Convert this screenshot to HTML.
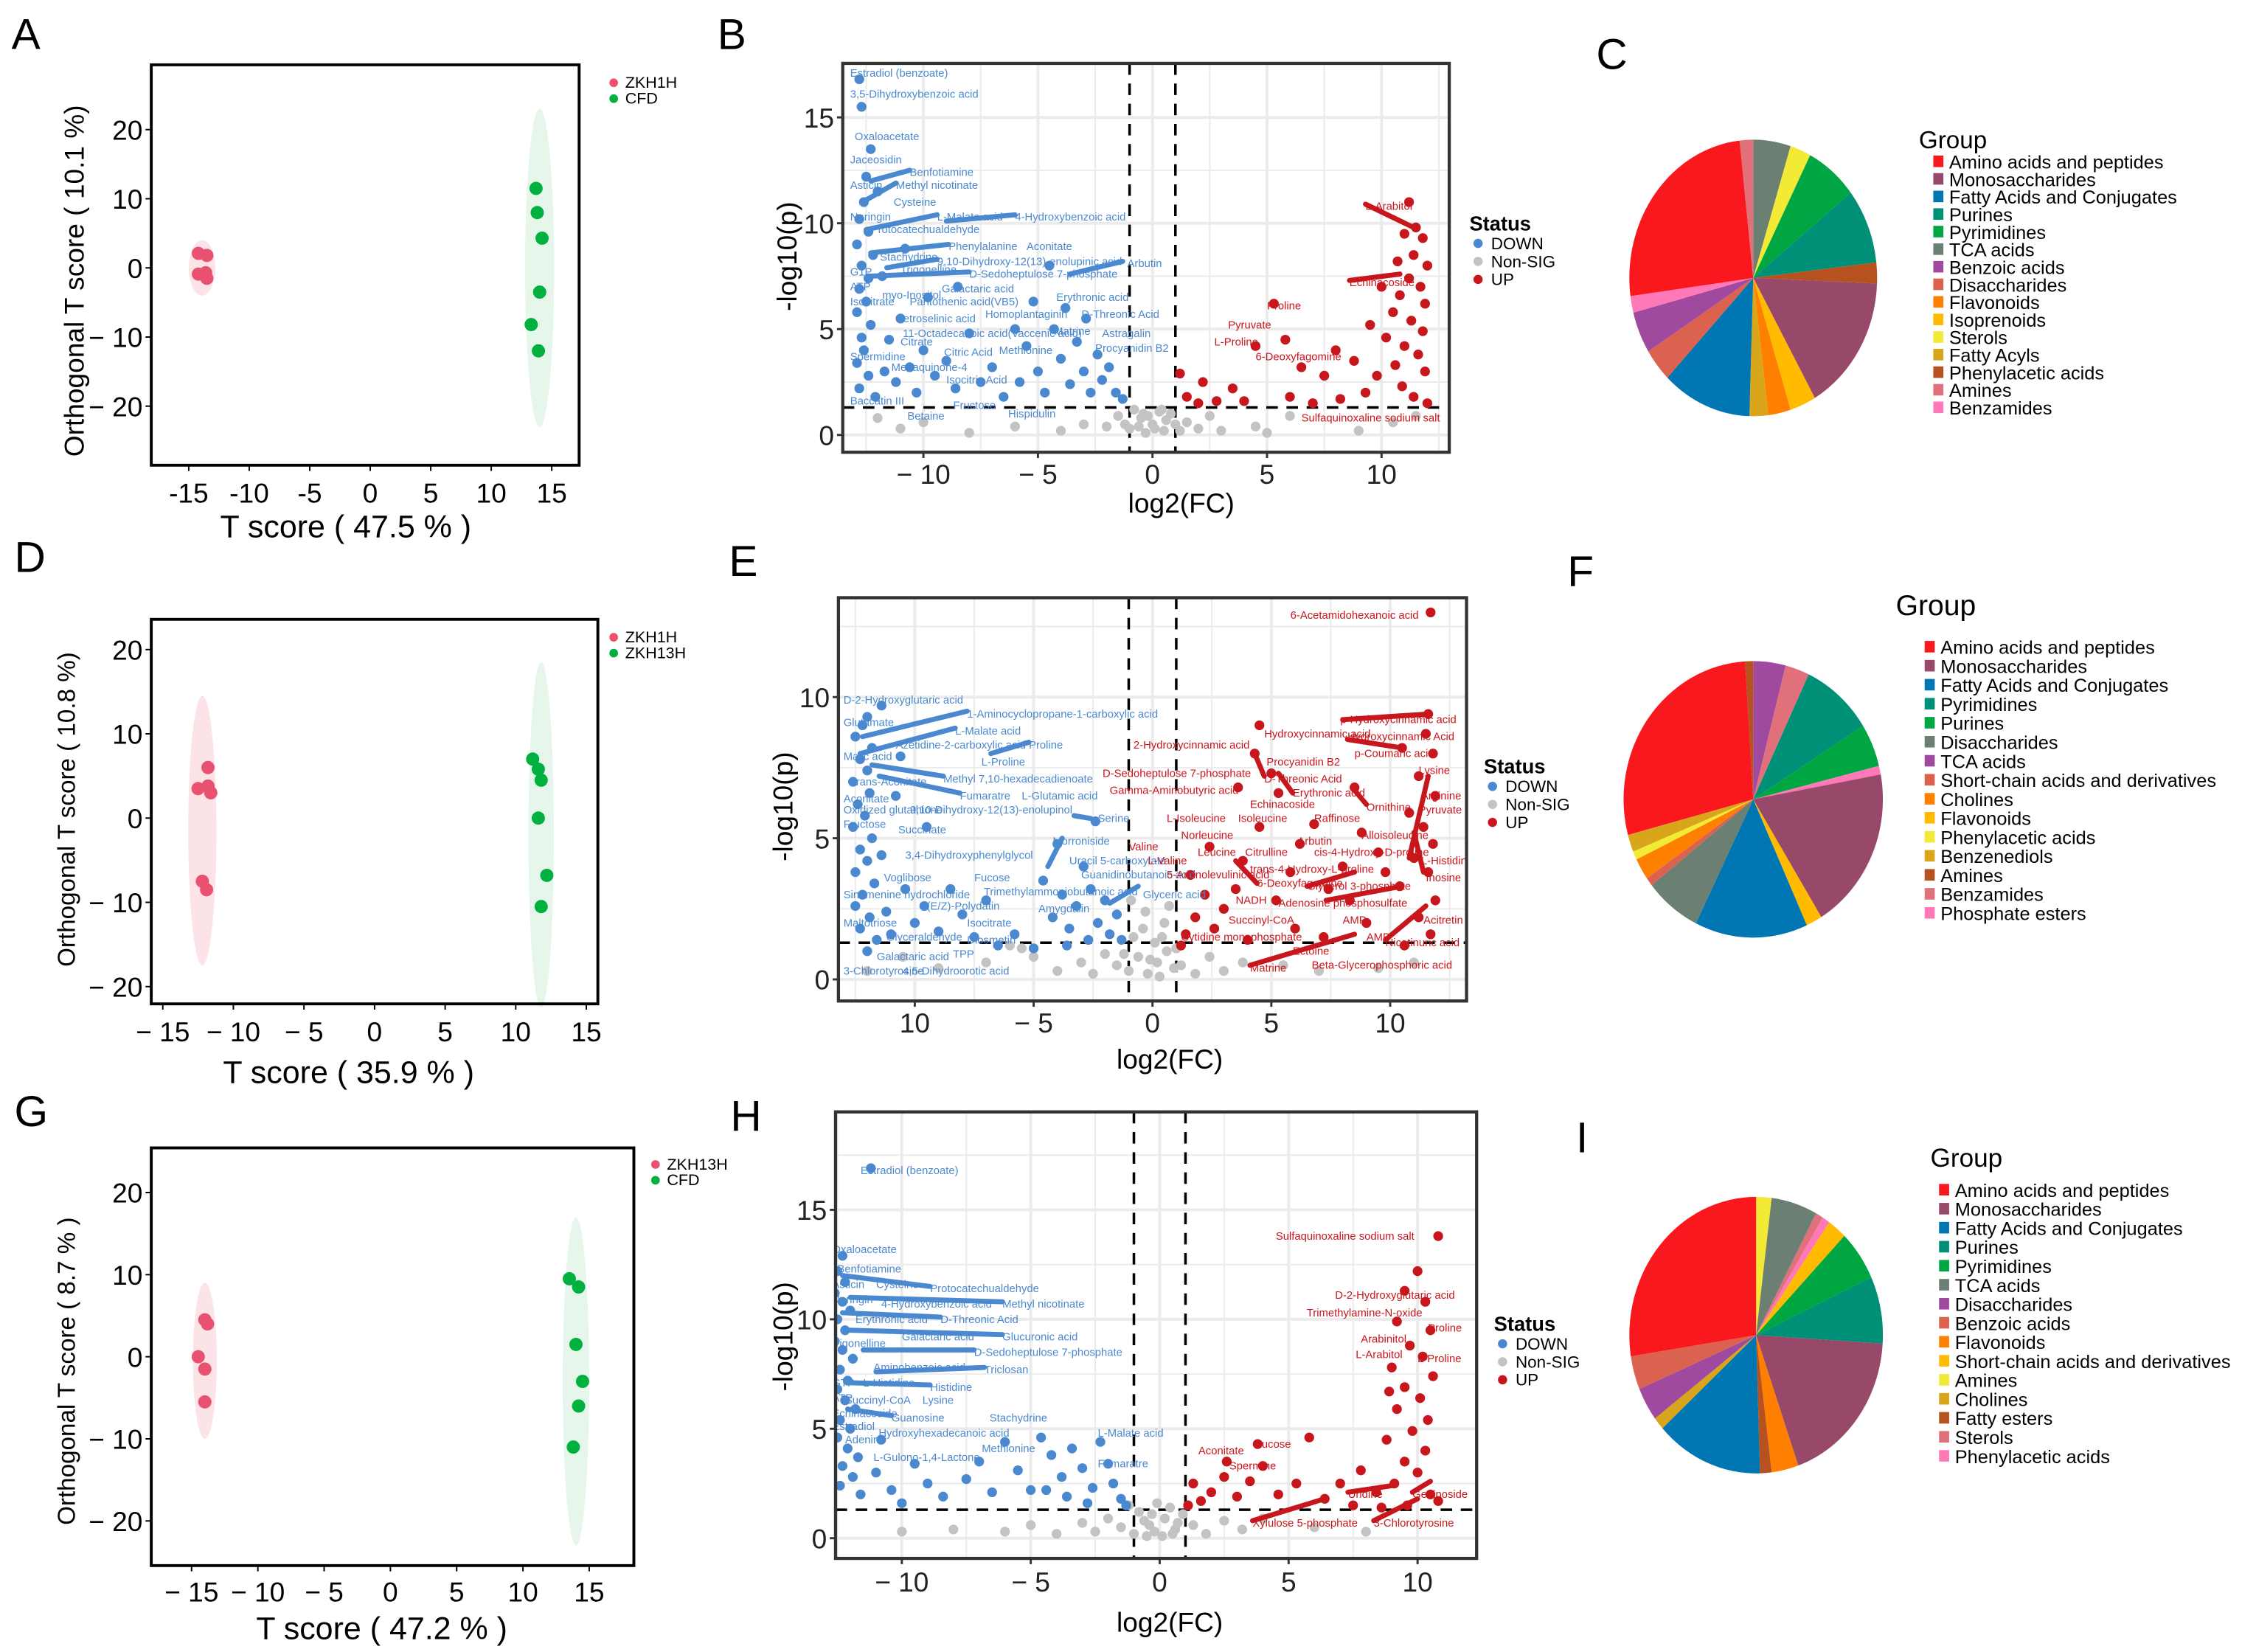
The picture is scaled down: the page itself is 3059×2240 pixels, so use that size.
<!DOCTYPE html>
<html><head><meta charset="utf-8"><style>
html,body{margin:0;padding:0;background:#fff;}
svg{display:block;}
text{font-family:"Liberation Sans",sans-serif;}
.lab{font-family:"Liberation Sans Narrow","Liberation Sans",sans-serif;font-size:7.6px;}
</style></head><body>
<svg id="fig" xmlns="http://www.w3.org/2000/svg" width="3059" height="2240" viewBox="0 0 1566 1147" preserveAspectRatio="none">
<rect x="0" y="0" width="1566" height="1147" fill="#fff"/>
<g font-size="30" fill="#000">
<text x="8" y="34">A</text>
<text x="498" y="34">B</text>
<text x="1108" y="48">C</text>
<text x="10" y="397">D</text>
<text x="506" y="400">E</text>
<text x="1088" y="407">F</text>
<text x="10" y="782">G</text>
<text x="507" y="785">H</text>
<text x="1094" y="800">I</text>
</g>
<g id="root"></g>
</svg>
<script>
// ---------- PCA data ----------
const pcaA_redX=[-14.2,-13.5,-14.2,-13.6,-13.5];
const pcaA_redY=[2.1,1.8,-0.9,-0.7,-1.5];
const pcaA_grnX=[13.7,13.8,14.2,14.0,13.3,13.9];
const pcaA_grnY=[11.5,8.0,4.3,-3.5,-8.2,-12.0];
const pcaD_redX=[-12.5,-11.8,-11.8,-11.6,-12.2,-11.9];
const pcaD_redY=[3.5,3.8,6.0,3.0,-7.5,-8.5];
const pcaD_grnX=[11.2,11.6,11.8,11.6,12.2,11.8];
const pcaD_grnY=[7.0,5.8,4.5,0.0,-6.8,-10.5];
const pcaG_redX=[-14.0,-13.8,-14.5,-14.0,-14.0];
const pcaG_redY=[4.5,4.0,0.0,-1.5,-5.5];
const pcaG_grnX=[13.5,14.2,14.0,14.5,14.2,13.8];
const pcaG_grnY=[9.5,8.5,1.5,-3.0,-6.0,-11.0];
const pcaTicksX=[-15,-10,-5,0,5,10,15];
const pcaTicksY=[20,10,0,-10,-20];

// ---------- Volcano data ----------
const volB_downX=[-12.8,-12.7,-12.3,-12.5,-12,-12.6,-12.8,-12.4,-12.9,-12.2,-12.7,-12.4,-12.8,-12.5,-12.9,-12.3,-12.7,-12.6,-12.9,-12.4,-12.8,-12.1,-11.7,-11.5,-11.2,-11,-10.6,-10.3,-10,-9.5,-9,-8.6,-8,-7.5,-7,-6.5,-5.8,-5.5,-5,-4.7,-4.3,-4,-3.6,-3.3,-3,-2.7,-2.4,-2.2,-1.9,-1.6,-1.3,-3.8,-2.9,-5.2,-6,-9.8,-8.5,-11.8,-10.8,-4.5];
const volB_downY=[16.8,15.5,13.5,12.2,11.5,11,10.2,9.6,9,8.5,8,7.4,6.9,6.3,5.8,5.2,4.6,4,3.4,2.8,2.2,1.8,3,4.5,2.5,5.5,3.2,2,4,2.8,3.5,2.2,4.8,2.5,3.2,1.8,2.5,4.2,3,2,5,3.6,2.4,4.4,3,2,3.8,2.6,3.2,2,1.7,6,5.5,6.3,5,6.5,7,7.5,8.8,8];
const volB_upX=[11.5,11.8,11,11.4,12,11.2,11.7,10.8,11.9,10.5,11.3,11.8,10.2,11,11.6,10.6,11.9,9.8,10.9,11.4,9.3,8.8,9.5,10,10.7,8.2,7.5,6.5,5.3,4.5,5.8,3.5,2.8,2.2,1.5,1.2,2,4,6,7,12,11.2,8];
const volB_upY=[9.8,9.3,9.5,8.5,8,7.4,7,6.6,6.2,5.8,5.4,4.9,4.6,4.2,3.8,3.3,3,2.8,2.3,1.8,2,3.5,5.2,7,8.2,1.7,2.8,3.2,6.2,4.2,4.5,2.2,1.6,2.5,1.8,2.9,1.5,1.6,1.8,1.5,1.5,11,4];
const volB_nsX=[-1,-0.5,0,0.5,0.8,-0.8,-0.3,0.3,1.5,2,-1.5,-2,-3,2.5,3,4.5,5,6,-4,-6,-8,-10,-11,-12,9,10.5,11.5,-0.2,0.1,1,-0.6,0.6,-1.2,1.2,0.4,-0.4];
const volB_nsY=[0.3,0.8,0.5,0.2,1,1.2,0.1,1.1,0.6,0.3,0.9,0.4,0.5,0.9,0.2,0.4,0.1,0.9,0.2,0.4,0.1,0.6,0.3,0.8,0.2,0.6,0.9,0.9,0.3,0.5,0.4,0.7,0.5,0.2,1.2,1.0];

const volE_downX=[-12,-12.2,-12.5,-11.8,-12.3,-12,-12.6,-11.9,-12.4,-12.1,-12.6,-11.8,-12.3,-12,-12.5,-11.7,-12.2,-12.5,-11.9,-12.3,-11.6,-12,-11.2,-11.4,-10.8,-11,-10.4,-10,-9.5,-9.6,-9,-8.5,-8,-7.5,-7,-6.5,-5.8,-5,-4.6,-4.2,-3.8,-3.5,-3.2,-2.9,-2.6,-2.3,-2,-1.8,-1.5,-1.3,-2.7,-3.6,-4,-2.4,-11.4,-10.6];
const volE_downY=[9.3,9,8.6,8.2,7.8,7.4,7,6.6,6.2,5.8,5.4,5,4.6,4.2,3.8,3.4,3,2.6,2.2,1.8,1.4,1,2.4,4.4,6.5,1.6,3.2,2,5.4,2.6,1.7,3.2,2.3,1.5,2.8,1.2,1.6,1.1,3.5,2.2,3,1.8,2.6,4,3.2,2,2.8,1.6,2.3,1.4,1.4,1.2,4.8,5.6,9.7,7.9];
const volE_upX=[11.7,4.5,11.6,10.5,4.3,5.3,5,8.5,11.5,11.8,11.2,11.9,10.8,11.4,11.8,11,11.6,10.4,11.9,11.2,11.7,10.6,9.5,8.8,8,7.4,6.8,6.2,5.8,5.2,4.5,3.8,3.5,3,2.6,2.2,1.8,1.4,1.2,4,6,7.2,9,8.3,9.8,3.6,2.4,1.6];
const volE_upY=[13,9,9.4,8.2,8,6.6,7.3,6.8,8.7,8,7.2,6.5,5.9,5.4,4.8,4.3,3.8,3.3,2.8,2.2,1.6,1.2,4.5,5.2,4,3.2,5.5,4.8,3.8,2.8,5.4,4.2,3.2,2.5,1.8,3,2.2,1.6,1.2,1.4,1.8,1.5,2,2.8,3.8,6.8,4.7,3.7];
const volE_nsX=[-1,-0.6,-0.2,0.2,0.6,0.9,-0.8,-0.4,0.1,0.5,-0.3,0.3,1.2,1.8,2.4,3,3.8,-1.5,-2,-2.5,-3,-4,-5,-5.5,-0.9,0.7,-1.2,0.4,-0.1,1,-7,-9,-10.5,-12,5.5,7,9.5,11,-6];
const volE_nsY=[0.3,0.8,0.2,0.6,1,0.4,1.5,1.8,1.3,2,2.4,0.1,0.5,0.2,0.8,0.3,0.6,0.5,0.9,0.2,0.6,0.3,0.8,1.1,2.8,2.6,0.9,1.5,0.7,1.1,0.6,0.4,0.8,0.3,0.5,0.3,0.4,0.6,1.2];

const volH_downX=[-11.2,-12.3,-12.5,-12.2,-12.6,-12.3,-12,-12.5,-12.2,-12.6,-12.3,-11.9,-12.4,-12.1,-12.5,-12.2,-11.8,-12.4,-12,-12.5,-12.1,-11.7,-12.3,-11.9,-12.4,-11.6,-11,-10.8,-10.4,-10,-9.5,-9,-8.4,-7.5,-7,-6.5,-6,-5.5,-5,-4.6,-4.2,-3.8,-3.4,-3,-2.6,-2.3,-2,-1.8,-1.5,-1.3,-2.8,-3.6,-4.4];
const volH_downY=[16.9,12.9,12.2,11.7,11.2,10.8,10.4,10,9.5,9,8.6,8.2,7.7,7.2,6.8,6.3,5.9,5.4,5,4.6,4.1,3.7,3.3,2.8,2.4,2,3,4.5,2.2,1.6,3.4,2.5,1.9,2.7,3.5,2.1,4.4,3.1,2.2,4.6,3.8,2.8,4.1,3.2,2.3,4.4,3.4,2.5,1.8,1.5,1.6,1.9,2.2];
const volH_upX=[10.8,10,9.5,10.3,9.2,10.5,9.7,10.2,9,10.6,9.5,10.1,9.2,10.4,9.8,8.8,10.3,9.5,10,9.1,10.5,9.6,8.4,7.8,7,6.4,5.8,5.3,4.6,4,3.5,3,2.5,2,1.6,1.3,1.1,3.8,2.6,7.5,8.6,10.8,8.9];
const volH_upY=[13.8,12.2,11.3,10.8,9.9,9.5,8.8,8.3,7.8,7.4,6.9,6.4,5.9,5.4,4.9,4.5,4,3.5,3,2.5,2,1.5,2.1,3.1,2.5,1.8,4.6,2.5,2,3.3,2.6,1.9,2.8,2.1,1.7,2.5,1.5,4.3,3.5,1.5,1.4,1.7,6.7];
const volH_nsX=[-1,-0.6,-0.2,0.2,0.6,0.9,-0.8,-0.4,0.1,0.4,-0.1,1.3,1.8,2.5,3.2,4,-1.5,-2,-2.5,-3,-4,-5,-6,-1.2,0.7,-0.3,-8,-10,6,8,-0.5,0.5];
const volH_nsY=[0.2,0.8,0.3,0.9,0.4,1.1,1.2,0.6,0.1,1.4,1.6,0.6,0.2,0.8,0.4,0.9,0.5,0.9,0.3,0.7,0.2,0.6,0.3,1.5,0.7,1.1,0.4,0.3,0.5,0.3,0.1,0.2];
const volTicksX=[-10,-5,0,5,10];
const volB_tickLabels=["− 10","− 5","0","5","10"];
const volE_tickLabels=["10","− 5","0","5","10"];
const volH_tickLabels=["− 10","− 5","0","5","10"];

// label arrays: [text, x, y] in data units
const labB_down=[["Estradiol (benzoate)",-13.2,17.1],["3,5-Dihydroxybenzoic acid",-13.2,16.1],["Oxaloacetate",-13.0,14.1],["Jaceosidin",-13.2,13.0],["Benfotiamine",-10.6,12.4],["Asticin",-13.2,11.8],["Methyl nicotinate",-11.2,11.8],["Cysteine",-11.3,11.0],["Naringin",-13.2,10.3],["L-Malate acid",-9.4,10.3],["4-Hydroxybenzoic acid",-6.0,10.3],["Protocatechualdehyde",-12.3,9.7],["Phenylalanine",-8.9,8.9],["Aconitate",-5.5,8.9],["Stachydrine",-11.9,8.4],["9,10-Dihydroxy-12(13)-enolupinic acid",-9.4,8.2],["Trigonelline",-11.0,7.8],["Arbutin",-1.1,8.1],["G1P",-13.2,7.7],["D-Sedoheptulose 7-phosphate",-8.0,7.6],["ATP",-13.2,7.0],["Galactaric acid",-9.2,6.9],["myo-Inositol",-11.8,6.6],["Erythronic acid",-4.2,6.5],["Isocitrate",-13.2,6.3],["Pantothenic acid(VB5)",-10.6,6.3],["Petroselinic acid",-11.2,5.5],["Homoplantaginin",-7.3,5.7],["D-Threonic Acid",-3.1,5.7],["11-Octadecanoic acid(Vaccenic acid)",-10.9,4.8],["Matrine",-4.3,4.9],["Citrate",-11.0,4.4],["Astragalin",-2.2,4.8],["Citric Acid",-9.1,3.9],["Methionine",-6.7,4.0],["Procyanidin B2",-2.5,4.1],["Spermidine",-13.2,3.7],["Menaquinone-4",-11.4,3.2],["Isocitric Acid",-9.0,2.6],["Baccatin III",-13.2,1.6],["Fructose",-8.7,1.4],["Betaine",-10.7,0.9],["Hispidulin",-6.3,1.0]];
const labB_up=[["L-Arabitol",9.3,10.8],["Echinacoside",8.6,7.2],["Proline",5.0,6.1],["Pyruvate",3.3,5.2],["L-Proline",2.7,4.4],["6-Deoxyfagomine",4.5,3.7],["Sulfaquinoxaline sodium salt",6.5,0.8]];
const segB_down=[[-9.4,10.4,-12.5,9.7],[-8.9,9.0,-12.3,8.6],[-6.0,10.4,-9.0,10.1],[-8.0,7.7,-12.3,7.5],[-3.6,7.6,-1.3,8.2],[-9.4,8.3,-11.6,7.9],[-11.2,11.9,-12.5,11.1],[-10.6,12.5,-12.3,12.0]];
const segB_up=[[9.3,10.9,11.4,9.8],[8.6,7.3,10.8,7.6]];

const labE_down=[["D-2-Hydroxyglutaric acid",-13,9.9],["Glutamate",-13,9.1],["1-Aminocyclopropane-1-carboxylic acid",-7.8,9.4],["L-Malate acid",-8.3,8.8],["Azetidine-2-carboxylic acid",-10.8,8.3],["Proline",-5.2,8.3],["L-Proline",-7.2,7.7],["Malic acid",-13,7.9],["trans-Aconitate",-12.6,7.0],["Methyl 7,10-hexadecadienoate",-8.8,7.1],["Fumaratre",-8.1,6.5],["L-Glutamic acid",-5.5,6.5],["Aconitate",-13,6.4],["Oxidized glutathione",-13,6.0],["9,10-Dihydroxy-12(13)-enolupinol",-10.2,6.0],["Fructose",-13,5.5],["Succinate",-10.7,5.3],["Serine",-2.3,5.7],["Morroniside",-4.2,4.9],["3,4-Dihydroxyphenylglycol",-10.4,4.4],["Uracil 5-carboxylate",-3.5,4.2],["Voglibose",-11.3,3.6],["Fucose",-7.5,3.6],["Guanidinobutanoic acid",-3,3.7],["Sinomenine hydrochloride",-13,3.0],["(E/Z)-Polydatin",-9.5,2.6],["Trimethylammoniobutanoic acid",-7.1,3.1],["Glyceric acid",-0.4,3.0],["Amygdalin",-4.8,2.5],["Maltotriose",-13,2.0],["Isocitrate",-7.8,2.0],["Glyceraldehyde",-11.2,1.5],["Diosmetin",-7.8,1.4],["TPP",-8.4,0.9],["Galactaric acid",-11.6,0.8],["3-Chlorotyrosine",-13,0.3],["4,5-Dihydroorotic acid",-10.5,0.3]];
const labE_up=[["6-Acetamidohexanoic acid",5.8,12.9],["p-Hydroxycinnamic acid",7.9,9.2],["Hydroxycinnamic acid",4.7,8.7],["Hydroxycinnamic Acid",8.2,8.6],["2-Hydroxycinnamic acid",-0.8,8.3],["p-Coumaric acid",8.5,8.0],["Procyanidin B2",4.8,7.7],["D-Sedoheptulose 7-phosphate",-2.1,7.3],["D-Threonic Acid",4.7,7.1],["Lysine",11.2,7.4],["Gamma-Aminobutyric acid",-1.8,6.7],["Erythronic acid",5.9,6.6],["Arginine",11.3,6.5],["Echinacoside",4.1,6.2],["Ornithine",9.0,6.1],["Pyruvate",11.2,6.0],["L-Isoleucine",0.6,5.7],["Isoleucine",3.6,5.7],["Raffinose",6.8,5.7],["Norleucine",1.2,5.1],["Alloisoleucine",8.8,5.1],["Valine",-1.0,4.7],["Arbutin",6.1,4.9],["Leucine",1.9,4.5],["Citrulline",3.9,4.5],["cis-4-Hydroxy-D-proline",6.8,4.5],["L-Histidine",11.3,4.2],["L-Valine",-0.2,4.2],["trans-4-Hydroxy-L-proline",4.1,3.9],["5-Aminolevulinic acid",0.6,3.7],["6-Deoxyfagomine",4.4,3.4],["Glycerol 3-phosphate",6.5,3.3],["Inosine",11.5,3.6],["NADH",3.5,2.8],["Adenosine phosphosulfate",5.3,2.7],["Succinyl-CoA",3.2,2.1],["AMP",8.0,2.1],["Acitretin",11.4,2.1],["Cytidine monophosphate",1.2,1.5],["AMP",9.0,1.5],["Nicotinuric acid",9.8,1.3],["Ectoine",5.9,1.0],["Matrine",4.1,0.4],["Beta-Glycerophosphoric acid",6.7,0.5]];
const segE_down=[[-7.8,9.5,-12.2,8.6],[-8.3,8.9,-12.3,8.0],[-5.2,8.4,-6.8,8.0],[-8.8,7.2,-11.8,7.6],[-8.1,6.6,-11.5,7.2],[-3.3,5.8,-2.6,5.7],[-4.4,4.0,-3.8,5.0],[-0.6,3.3,-1.8,2.7]];
const segE_up=[[8.0,9.2,11.6,9.4],[8.2,8.5,10.5,8.2],[5.9,6.6,5.3,7.3],[9.0,6.2,8.4,6.8],[9.8,1.4,11.5,2.6],[6.5,3.3,8.5,3.8],[7.3,2.8,10.5,3.3],[4.4,3.4,3.5,4.2],[4.1,0.5,8.5,1.6],[4.7,7.2,4.3,8.0],[11.4,3.8,11.0,5.2],[10.8,4.3,11.6,7.2]];

const labH_down=[["Estradiol (benzoate)",-11.6,16.8],["Oxaloacetate",-12.7,13.2],["Benfotiamine",-12.5,12.3],["Asticin",-12.7,11.6],["Cysteine",-11.0,11.6],["Protocatechualdehyde",-8.9,11.4],["Naringin",-12.7,10.9],["4-Hydroxybenzoic acid",-10.8,10.7],["Methyl nicotinate",-6.1,10.7],["Erythronic acid",-11.8,10.0],["D-Threonic Acid",-8.5,10.0],["Galactaric acid",-10.0,9.2],["Glucuronic acid",-6.1,9.2],["Trigonelline",-12.8,8.9],["D-Sedoheptulose 7-phosphate",-7.2,8.5],["Aminobenzoic acid",-11.1,7.8],["Triclosan",-6.8,7.7],["GTP",-12.7,7.1],["L-Histidine",-11.5,7.1],["Histidine",-8.9,6.9],["ATP",-12.7,6.4],["Succinyl-CoA",-12.2,6.3],["Lysine",-9.2,6.3],["Echinacoside",-12.7,5.7],["Guanosine",-10.4,5.5],["Stachydrine",-6.6,5.5],["Estradiol",-12.7,5.1],["Hydroxyhexadecanoic acid",-10.9,4.8],["Adenine",-12.2,4.5],["Methionine",-6.9,4.1],["L-Gulono-1,4-Lactone",-11.1,3.7],["L-Malate acid",-2.4,4.8],["Fumaratre",-2.4,3.4]];
const labH_up=[["Sulfaquinoxaline sodium salt",4.5,13.8],["D-2-Hydroxyglutaric acid",6.8,11.1],["Trimethylamine-N-oxide",5.7,10.3],["Proline",10.4,9.6],["Arabinitol",7.8,9.1],["L-Arabitol",7.6,8.4],["L-Proline",10.0,8.2],["Aconitate",1.5,4.0],["Fucose",3.7,4.3],["Spermine",2.7,3.3],["Uridine",7.3,2.0],["Geniposide",9.8,2.0],["Xylulose 5-phosphate",3.6,0.7],["3-Chlorotyrosine",8.3,0.7]];
const segH_down=[[-8.9,11.5,-12.3,12.0],[-6.1,10.8,-12.0,11.0],[-8.5,10.1,-12.3,10.3],[-6.1,9.3,-12.0,9.5],[-7.2,8.6,-11.5,8.6],[-8.9,7.0,-12.0,7.1],[-6.8,7.8,-11.0,7.6],[-10.4,5.6,-12.1,5.9]];
const segH_up=[[9.8,2.1,10.5,2.6],[8.3,0.8,10.0,1.8],[7.3,2.1,9.0,2.4],[3.6,0.8,6.4,1.8]];

// ---------- Pie data ----------
const pieC_cats=["TCA acids","Sterols","Pyrimidines","Purines","Phenylacetic acids","Monosaccharides","Isoprenoids","Flavonoids","Fatty Acyls","Fatty Acids and Conjugates","Disaccharides","Benzoic acids","Benzamides","Amino acids and peptides","Amines"];
const pieC_vals=[5,2.8,7,9,2.5,16.5,3.5,3,2.5,12,4,5,2,26,1.8];
const pieC_legend=["Amino acids and peptides","Monosaccharides","Fatty Acids and Conjugates","Purines","Pyrimidines","TCA acids","Benzoic acids","Disaccharides","Flavonoids","Isoprenoids","Sterols","Fatty Acyls","Phenylacetic acids","Amines","Benzamides"];
const pieC_cols=["#f8181e","#984868","#0077b2","#009077","#00a642","#6b7f73","#a04a9f","#dc6250","#ff7f00","#ffbb00","#f2ea34","#d9a51a","#b5521f","#e0707a","#ff78b8"];

const pieF_cats=["TCA acids","Benzamides","Pyrimidines","Purines","Phosphate esters","Monosaccharides","Flavonoids","Fatty Acids and Conjugates","Disaccharides","Short-chain acids and derivatives","Cholines","Phenylacetic acids","Benzenediols","Amino acids and peptides","Amines"];
const pieF_vals=[4,3,9,5,1,19,2,14,7,1,2.5,1,2,28,1];
const pieF_legend=["Amino acids and peptides","Monosaccharides","Fatty Acids and Conjugates","Pyrimidines","Purines","Disaccharides","TCA acids","Short-chain acids and derivatives","Cholines","Flavonoids","Phenylacetic acids","Benzenediols","Amines","Benzamides","Phosphate esters"];
const pieF_cols=["#f8181e","#984868","#0077b2","#009077","#00a642","#6b7f73","#a04a9f","#dc6250","#ff7f00","#ffbb00","#f2ea34","#d9a51a","#b5521f","#e0707a","#ff78b8"];

const pieI_cats=["Amines","TCA acids","Sterols","Phenylacetic acids","Short-chain acids and derivatives","Pyrimidines","Purines","Monosaccharides","Flavonoids","Fatty esters","Fatty Acids and Conjugates","Cholines","Disaccharides","Benzoic acids","Amino acids and peptides"];
const pieI_vals=[2,6,1,1,2.5,6,8,19,3.5,1.5,14,1.5,4,4,28];
const pieI_legend=["Amino acids and peptides","Monosaccharides","Fatty Acids and Conjugates","Purines","Pyrimidines","TCA acids","Disaccharides","Benzoic acids","Flavonoids","Short-chain acids and derivatives","Amines","Cholines","Fatty esters","Sterols","Phenylacetic acids"];
const pieI_cols=["#f8181e","#984868","#0077b2","#009077","#00a642","#6b7f73","#a04a9f","#dc6250","#ff7f00","#ffbb00","#f2ea34","#d9a51a","#b5521f","#e0707a","#ff78b8"];

// ---------- drawing ----------
const NS="http://www.w3.org/2000/svg";
const root=document.getElementById('root');
function mk(tag,attrs,parent,txt){const e=document.createElementNS(NS,tag);for(const k in attrs)e.setAttribute(k,attrs[k]);if(txt!==undefined)e.textContent=txt;(parent||root).appendChild(e);return e;}
function grp(name){const g=mk('g',{});return g;}

function pca(c){
  const g=grp(c.name);
  const sx=v=>c.x0+v*c.kx, sy=v=>c.y0+v*c.ky;
  const e1=mk('ellipse',{cx:sx(c.e1[0]),cy:sy(c.e1[1]),rx:Math.abs(c.e1[2]*c.kx),ry:Math.abs(c.e1[3]*c.ky),fill:'#fbe3e8'},g);
  
  
  const e2=mk('ellipse',{cx:sx(c.e2[0]),cy:sy(c.e2[1]),rx:Math.abs(c.e2[2]*c.kx),ry:Math.abs(c.e2[3]*c.ky),fill:'#e6f6ea'},g);
  
  
  c.rx.forEach((v,i)=>{const p=mk('circle',{cx:sx(v),cy:sy(c.ry[i]),r:4.6,fill:'#e8516f'},g);
    
    });
  c.gx.forEach((v,i)=>{const p=mk('circle',{cx:sx(v),cy:sy(c.gy[i]),r:4.6,fill:'#00b140'},g);
    
    });
  const b=mk('rect',{x:c.box[0],y:c.box[1],width:c.box[2]-c.box[0],height:c.box[3]-c.box[1],fill:'none',stroke:'#000','stroke-width':2},g);
  
  
  pcaTicksX.forEach(t=>{mk('line',{x1:sx(t),x2:sx(t),y1:c.box[3],y2:c.box[3]+4,stroke:'#000'},g);
    const tx=mk('text',{x:sx(t),y:c.box[3]+c.tly,'text-anchor':'middle','font-size':c.tfs},g,(c.minus&&t<0?'− ':'')+(c.minus?Math.abs(t):t));
    
    });
  pcaTicksY.forEach(t=>{mk('line',{x1:c.box[0]-4,x2:c.box[0],y1:sy(t),y2:sy(t),stroke:'#000'},g);
    const tx=mk('text',{x:c.box[0]-6,y:sy(t)+7,'text-anchor':'end','font-size':c.tfs},g,(t<0?'− ':'')+Math.abs(t));
    
    });
  const xt=mk('text',{x:c.xt[0],y:c.xt[1],'text-anchor':'middle','font-size':22},g,c.xtitle);
  
  
  const yt=mk('text',{x:0,y:0,'text-anchor':'middle','font-size':c.ytfs,transform:`translate(${c.yt[0]},${c.yt[1]}) rotate(-90)`},g,c.ytitle);
  
  
  [[c.l1,'#e8516f'],[c.l2,'#00b140']].forEach((l,i)=>{const yy=c.leg[1]+i*11;
    const d=mk('circle',{cx:c.leg[0],cy:yy-3.5,r:3,fill:l[1]},g);
    
    
    const t=mk('text',{x:c.leg[0]+8,y:yy,'font-size':11},g,l[0]);
    
    });
}

function volcano(c){
  const g=grp(c.name);
  const sx=v=>c.x0+v*c.kx, sy=v=>c.y0+v*c.ky;
  const [L,T,R,B]=c.box;
  const clip='clip'+c.name;
  const cp=mk('clipPath',{id:clip},g);mk('rect',{x:L,y:T,width:R-L,height:B-T},cp);
  const inner=mk('g',{'clip-path':`url(#${clip})`},g);
  for(let v=-15;v<=15;v+=2.5){mk('line',{x1:sx(v),x2:sx(v),y1:T,y2:B,stroke:'#ebebeb','stroke-width':v%5===0?2:1},inner);}
  for(let v=0;v<=20;v+=2.5){mk('line',{x1:L,x2:R,y1:sy(v),y2:sy(v),stroke:'#ebebeb','stroke-width':v%5===0?2:1},inner);}
  const dash={stroke:'#000','stroke-width':1.8,'stroke-dasharray':'8,6'};
  const v1=mk('line',Object.assign({x1:sx(-1),x2:sx(-1),y1:T,y2:B},dash),inner);
  
  
  const v2=mk('line',Object.assign({x1:sx(1),x2:sx(1),y1:T,y2:B},dash),inner);
  
  
  const h=mk('line',Object.assign({x1:L,x2:R,y1:sy(1.3),y2:sy(1.3)},dash),inner);
  
  
  c.nsX.forEach((v,i)=>{const p=mk('circle',{cx:sx(v),cy:sy(c.nsY[i]),r:3.4,fill:'#c3c3c3'},inner);
    
    });
  c.segD.forEach(s=>{mk('line',{x1:sx(s[0]),y1:sy(s[1]),x2:sx(s[2]),y2:sy(s[3]),stroke:'#4a89cf','stroke-width':3.5,'stroke-linecap':'round'},inner);});
  c.segU.forEach(s=>{mk('line',{x1:sx(s[0]),y1:sy(s[1]),x2:sx(s[2]),y2:sy(s[3]),stroke:'#c8161d','stroke-width':3.5,'stroke-linecap':'round'},inner);});
  c.dX.forEach((v,i)=>{const p=mk('circle',{cx:sx(v),cy:sy(c.dY[i]),r:3.4,fill:'#4a89cf'},inner);
    
    });
  c.uX.forEach((v,i)=>{const p=mk('circle',{cx:sx(v),cy:sy(c.uY[i]),r:3.4,fill:'#c8161d'},inner);
    
    });
  c.labD.forEach(l=>{const t=mk('text',{x:sx(l[1]),y:sy(l[2])+2.5,fill:'#4a89cf',class:'lab'},inner,l[0]);
    
    });
  c.labU.forEach(l=>{const t=mk('text',{x:sx(l[1]),y:sy(l[2])+2.5,fill:'#c8161d',class:'lab'},inner,l[0]);
    
    });
  const b=mk('rect',{x:L,y:T,width:R-L,height:B-T,fill:'none',stroke:'#333','stroke-width':2.2},g);
  
  
  volTicksX.forEach((t,i)=>{mk('line',{x1:sx(t),x2:sx(t),y1:B,y2:B+4,stroke:'#333','stroke-width':1.5},g);
    const tx=mk('text',{x:sx(t),y:B+c.tly,'text-anchor':'middle','font-size':19,fill:'#222'},g,c.tickLabels[i]);
    
    });
  c.ticksY.forEach(t=>{mk('line',{x1:L-4,x2:L,y1:sy(t),y2:sy(t),stroke:'#333','stroke-width':1.5},g);
    const tx=mk('text',{x:L-6,y:sy(t)+7,'text-anchor':'end','font-size':19,fill:'#222'},g,String(t));
    
    });
  const xt=mk('text',{x:c.xt[0],y:c.xt[1],'text-anchor':'middle','font-size':19},g,'log2(FC)');
  
  
  const yt=mk('text',{x:0,y:0,'text-anchor':'middle','font-size':19,transform:`translate(${c.yt[0]},${c.yt[1]}) rotate(-90)`},g,'-log10(p)');
  
  
  const st=mk('text',{x:c.leg[0],y:c.leg[1],'font-size':14,'font-weight':'bold'},g,'Status');
  
  
  [['DOWN','#4a89cf'],['Non-SIG','#c3c3c3'],['UP','#c8161d']].forEach((l,i)=>{const yy=c.leg[1]+13+i*12.5;
    const d=mk('circle',{cx:c.leg[0]+6,cy:yy-4,r:3.2,fill:l[1]},g);
    
    
    const t=mk('text',{x:c.leg[0]+15,y:yy,'font-size':11.5},g,l[0]);
    
    });
}

function pie(c){
  const g=grp(c.name);
  const colOf={};c.legend.forEach((n,i)=>colOf[n]=c.cols[i]);
  const tot=c.vals.reduce((a,b)=>a+b,0);
  let a=0;
  const pt=ang=>[c.cx+c.rx*Math.sin(ang),c.cy-c.ry*Math.cos(ang)];
  c.cats.forEach((n,i)=>{const da=c.vals[i]/tot*2*Math.PI;const p0=pt(a),p1=pt(a+da);
    const d=`M${c.cx},${c.cy} L${p0[0]},${p0[1]} A${c.rx},${c.ry} 0 ${da>Math.PI?1:0} 1 ${p1[0]},${p1[1]} Z`;
    const s=mk('path',{d:d,fill:colOf[n]},g);
    
    
    a+=da;});
  const gt=mk('text',{x:c.lt[0],y:c.lt[1],'font-size':c.gfs},g,'Group');
  
  
  c.legend.forEach((n,i)=>{const yy=c.l0[1]+i*c.step;
    const r=mk('rect',{x:c.l0[0],y:yy-9,width:7,height:8,fill:c.cols[i]},g);
    
    
    const t=mk('text',{x:c.l0[0]+11,y:yy,'font-size':c.fs},g,n);
    
    });
}

pca({name:'pca-plot-a',x0:257,kx:8.4,y0:186,ky:-4.8,box:[105,45,402,323],rx:pcaA_redX,ry:pcaA_redY,gx:pcaA_grnX,gy:pcaA_grnY,
  e1:[-13.9,0,1.1,4.0],e2:[14,0,1.2,23],tly:26,tfs:19,minus:false,xt:[240,373],xtitle:'T score ( 47.5 % )',yt:[58,195],ytfs:19,ytitle:'Orthogonal T score ( 10.1 %)',
  l1:'ZKH1H',l2:'CFD',leg:[426,61]});
pca({name:'pca-plot-d',x0:260,kx:9.8,y0:568,ky:-5.85,box:[105,430,415,697],rx:pcaD_redX,ry:pcaD_redY,gx:pcaD_grnX,gy:pcaD_grnY,
  e1:[-12.2,-1.5,1.0,16],e2:[11.8,-2,0.9,20.5],tly:26,tfs:19,minus:true,xt:[242,752],xtitle:'T score ( 35.9 % )',yt:[52,562],ytfs:17,ytitle:'Orthogonal T score ( 10.8 %)',
  l1:'ZKH1H',l2:'ZKH13H',leg:[426,446]});
pca({name:'pca-plot-g',x0:271,kx:9.2,y0:942,ky:-5.7,box:[105,797,440,1087],rx:pcaG_redX,ry:pcaG_redY,gx:pcaG_grnX,gy:pcaG_grnY,
  e1:[-14,-0.5,0.9,9.5],e2:[14,-3,1.0,20],tly:25,tfs:19,minus:true,xt:[265,1138],xtitle:'T score ( 47.2 % )',yt:[52,952],ytfs:17,ytitle:'Orthogonal T score ( 8.7 % )',
  l1:'ZKH13H',l2:'CFD',leg:[455,812]});

volcano({name:'volcano-plot-b',x0:800,kx:15.9,y0:302,ky:-14.7,box:[585,44,1006,314],dX:volB_downX,dY:volB_downY,uX:volB_upX,uY:volB_upY,nsX:volB_nsX,nsY:volB_nsY,
  labD:labB_down,labU:labB_up,segD:segB_down,segU:segB_up,ticksY:[0,5,10,15],tickLabels:volB_tickLabels,tly:22,xt:[820,356],yt:[553,178],leg:[1020,160]});
volcano({name:'volcano-plot-e',x0:800,kx:16.5,y0:680,ky:-19.6,box:[582,415,1018,695],dX:volE_downX,dY:volE_downY,uX:volE_upX,uY:volE_upY,nsX:volE_nsX,nsY:volE_nsY,
  labD:labE_down,labU:labE_up,segD:segE_down,segU:segE_up,ticksY:[0,5,10],tickLabels:volE_tickLabels,tly:22,xt:[812,742],yt:[550,560],leg:[1030,537]});
volcano({name:'volcano-plot-h',x0:805,kx:17.9,y0:1068,ky:-15.2,box:[580,772,1025,1082],dX:volH_downX,dY:volH_downY,uX:volH_upX,uY:volH_upY,nsX:volH_nsX,nsY:volH_nsY,
  labD:labH_down,labU:labH_up,segD:segH_down,segU:segH_up,ticksY:[0,5,10,15],tickLabels:volH_tickLabels,tly:23,xt:[812,1133],yt:[550,928],leg:[1037,924]});

pie({name:'pie-chart-c',cx:1217,cy:193,rx:86,ry:96,cats:pieC_cats,vals:pieC_vals,legend:pieC_legend,cols:pieC_cols,lt:[1332,103],gfs:17,l0:[1342,117],step:12.2,fs:13});
pie({name:'pie-chart-f',cx:1217,cy:555,rx:90,ry:96,cats:pieF_cats,vals:pieF_vals,legend:pieF_legend,cols:pieF_cols,lt:[1316,427],gfs:20,l0:[1336,454],step:13.2,fs:13});
pie({name:'pie-chart-i',cx:1219,cy:927,rx:88,ry:96,cats:pieI_cats,vals:pieI_vals,legend:pieI_legend,cols:pieI_cols,lt:[1340,810],gfs:18,l0:[1346,831],step:13.2,fs:13});
</script>
</body></html>
